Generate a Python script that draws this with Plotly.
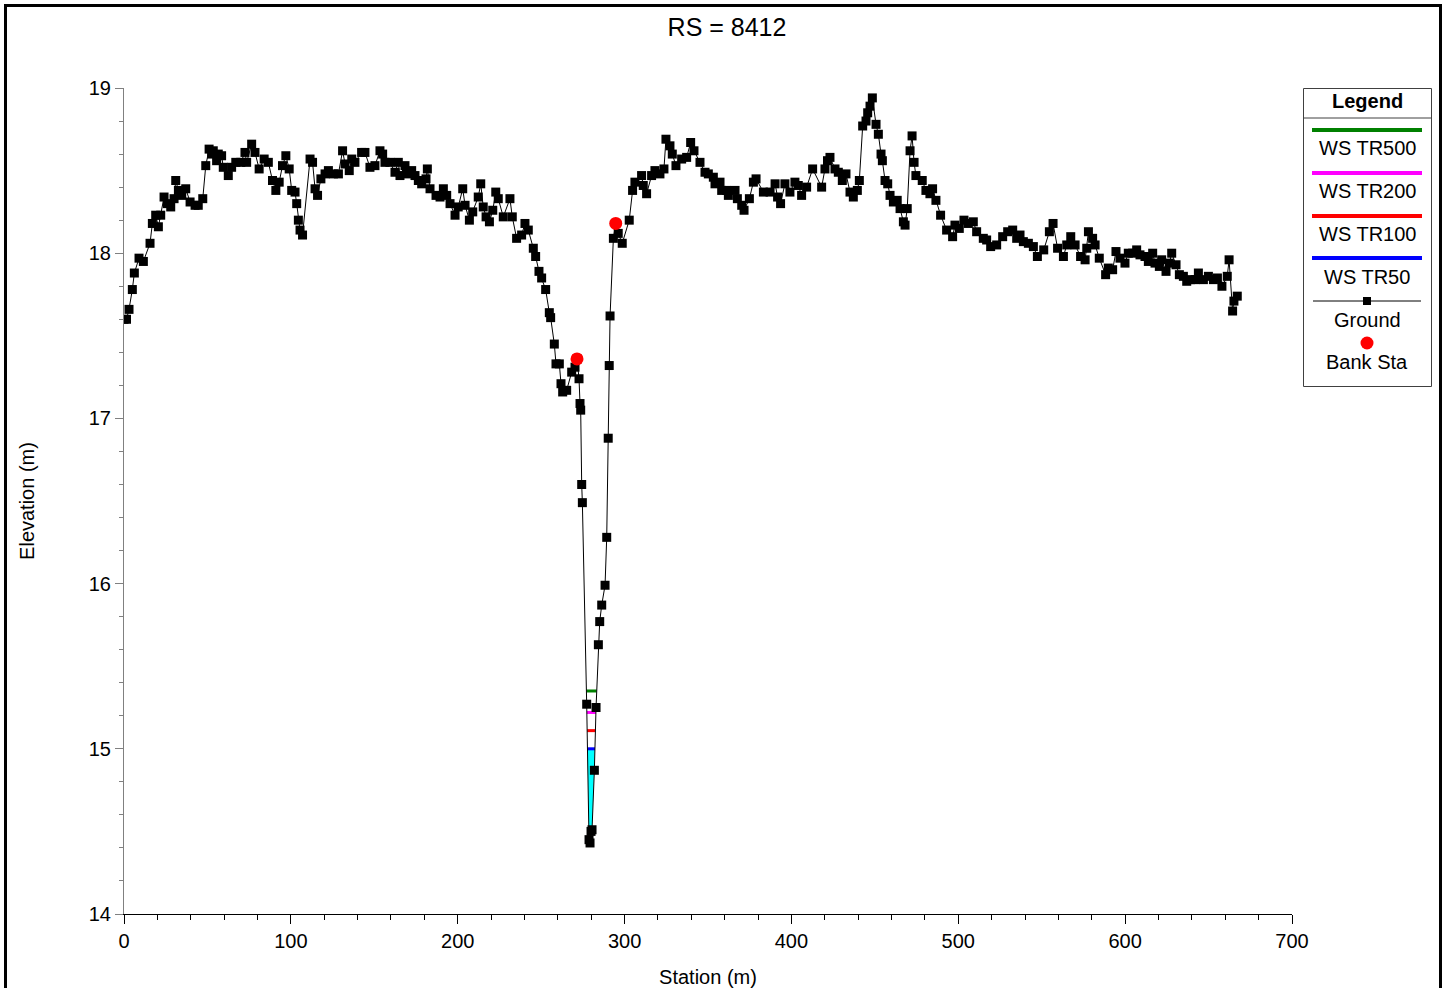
import numpy as np
import plotly.graph_objects as go

# ---------------- data ----------------
station = [
    0, 1.5, 3, 5, 6.2, 9, 11.6, 15.6, 17, 19, 20.6, 22, 24, 26, 28, 30, 31, 32.6, 34.6, 37,
    39.6, 42.6, 44.5, 47.2, 49, 51, 52.5, 53.5, 55.5, 56.5, 58.5, 59.5, 62.5, 64.5, 67, 70,
    72.5, 73.5, 76.5, 78.5, 81, 84, 86.5, 89, 91, 93, 95, 97, 99, 100.5, 102.5, 103.5, 104.5,
    105.5, 107, 111.5, 113, 114.5, 116, 118, 120.5, 122.5, 125.5, 128.5, 131, 132.5, 135,
    136.5, 138.4, 142.4, 144.4, 147.4, 150.4, 153.4, 155, 156.4, 159.4, 162.4, 164.4, 165.4,
    168.4, 169.4, 172.4, 174.4, 176.4, 178.4, 181, 181.8, 183.4, 187, 189.4, 191.4, 193.4,
    195.4, 198.4, 200.3, 203, 204.4, 207, 209, 212.3, 213.8, 215.3, 217, 219, 221, 222.8,
    224.3, 227.3, 231.3, 232.7, 235.3, 238.3, 240.3, 242.3, 245.3, 246.7, 248.7, 250.3,
    252.7, 254.9, 255.7, 257.9, 258.9, 260.9, 261.9, 262.9, 265.3, 268.3, 270.3, 271.5,
    272.7, 273.3, 273.7, 274.3, 274.7, 277.3, 278.7, 279.3, 279.9, 280.5, 281.9, 282.9,
    284.3, 285.1, 286.3, 288.3, 289.3, 290.2, 290.8, 291.3, 293.3, 294.7, 296.2, 298.6,
    302.8, 304.8, 306.2, 310.2, 311.2, 313.2, 316.2, 318.2, 321.2, 323.6, 324.8, 327.2,
    328.6, 330.8, 334.2, 337.2, 339.6, 341.6, 345.2, 348.2, 350.2, 353.2, 354.2, 357.2,
    358.2, 361.2, 362.2, 366.2, 367.6, 370.2, 371.6, 374.8, 377.2, 378.8, 383.2, 387.2,
    390.2, 391.7, 393.5, 396.1, 399.1, 402.1, 404.1, 406.1, 409.1, 412.7, 418.1, 420.1,
    421.6, 423.1, 426.1, 428.1, 430.5, 432.7, 435.1, 437.1, 439.5, 440.7, 442.7, 444.7,
    445.7, 447.1, 448.5, 450.7, 452.1, 453.7, 454.5, 456.1, 457.7, 459.1, 461.1, 463.4,
    465.1, 467.1, 468.1, 469.4, 471.1, 472.3, 473.5, 474.6, 478.4, 480.6, 483, 484.6,
    486.6, 489.4, 493, 496.6, 498, 500.6, 503.4, 506, 509, 511, 515, 517, 519.4, 523,
    526.6, 529.6, 532.6, 535, 537, 539, 542, 545, 547.4, 551.2, 554.6, 556.8, 559.5, 563,
    565, 567.4, 570, 573.3, 576, 577, 578, 580.5, 582, 584.5, 588.3, 589.9, 592.5, 594.5,
    596.9, 599.9, 601.9, 604.5, 606.9, 608.9, 611.9, 613.9, 616.5, 617.9, 620.5, 621.9,
    624.5, 626.5, 627.9, 630.5, 632.5, 634.9, 636.9, 639.3, 641.9, 643.9, 646.9, 649.9,
    652.9, 655.3, 658, 661.2, 662.3, 664.4, 665.2, 667.2,
]
elevation = [
    17.60, 17.60, 17.66, 17.78, 17.88, 17.97, 17.95, 18.06, 18.18, 18.23, 18.16, 18.23, 18.34,
    18.30, 18.28, 18.33, 18.44, 18.38, 18.35, 18.39, 18.31, 18.29, 18.29, 18.33, 18.53, 18.63,
    18.60, 18.62, 18.56, 18.60, 18.59, 18.52, 18.47, 18.52, 18.55, 18.55, 18.61, 18.55, 18.66,
    18.61, 18.51, 18.57, 18.55, 18.44, 18.38, 18.43, 18.53, 18.59, 18.51, 18.38, 18.37, 18.30,
    18.20, 18.14, 18.11, 18.57, 18.55, 18.39, 18.35, 18.45, 18.48, 18.50, 18.48, 18.48, 18.62,
    18.54, 18.50, 18.57, 18.55, 18.61, 18.61, 18.52, 18.53, 18.62, 18.60, 18.55, 18.55, 18.49,
    18.55, 18.47, 18.53, 18.48, 18.50, 18.47, 18.44, 18.42, 18.45, 18.51, 18.39, 18.35, 18.34,
    18.39, 18.35, 18.30, 18.23, 18.28, 18.39, 18.29, 18.20, 18.25, 18.34, 18.42, 18.28, 18.22,
    18.19, 18.26, 18.37, 18.33, 18.22, 18.33, 18.22, 18.09, 18.11, 18.18, 18.14, 18.03, 17.98,
    17.89, 17.85, 17.78, 17.64, 17.61, 17.45, 17.33, 17.33, 17.21, 17.16, 17.17, 17.28, 17.31,
    17.36, 17.24, 17.09, 17.05, 16.60, 16.49, 15.27, 14.45, 14.43, 14.50, 14.51, 14.87, 15.25,
    15.63, 15.77, 15.87, 15.99, 16.28, 16.88, 17.32, 17.62, 18.09, 18.18, 18.12, 18.06, 18.20,
    18.38, 18.43, 18.47, 18.41, 18.36, 18.47, 18.50, 18.48, 18.51, 18.69, 18.65, 18.60, 18.53,
    18.57, 18.58, 18.67, 18.62, 18.55, 18.49, 18.48, 18.46, 18.42, 18.43, 18.38, 18.38, 18.35,
    18.38, 18.33, 18.29, 18.26, 18.33, 18.43, 18.45, 18.37, 18.37, 18.42, 18.34, 18.30, 18.42,
    18.37, 18.43, 18.41, 18.35, 18.40, 18.51, 18.40, 18.51, 18.56, 18.58, 18.51, 18.49, 18.44,
    18.48, 18.37, 18.34, 18.38, 18.44, 18.77, 18.80, 18.85, 18.89, 18.94, 18.78, 18.72, 18.60,
    18.56, 18.44, 18.42, 18.35, 18.31, 18.32, 18.27, 18.19, 18.17, 18.27, 18.62, 18.71, 18.55,
    18.47, 18.44, 18.38, 18.36, 18.39, 18.32, 18.23, 18.14, 18.10, 18.17, 18.15, 18.20, 18.18,
    18.19, 18.13, 18.09, 18.08, 18.04, 18.05, 18.10, 18.13, 18.14, 18.09, 18.11, 18.07, 18.06,
    18.04, 17.98, 18.02, 18.13, 18.18, 18.03, 17.98, 18.05, 18.10, 18.05, 17.98, 17.96, 18.03,
    18.13, 18.09, 18.05, 17.97, 17.87, 17.91, 17.90, 18.01, 17.97, 17.94, 18.00, 18.00, 18.02,
    17.99, 17.98, 17.95, 18.00, 17.94, 17.92, 17.96, 17.89, 17.94, 18.00, 17.93, 17.87, 17.86,
    17.83, 17.84, 17.84, 17.88, 17.84, 17.86, 17.84, 17.85, 17.80, 17.86, 17.96, 17.65, 17.71,
    17.74,
]
bank_stations = [271.5, 294.7]
ws_names = ["WS TR500", "WS TR200", "WS TR100", "WS TR50"]
ws_elev = [15.35, 15.22, 15.11, 15.00]
ws_colors = ["#008000", "#FF00FF", "#FF0000", "#0000FF"]
x_ticks = [0, 100, 200, 300, 400, 500, 600, 700]
y_ticks = [14, 15, 16, 17, 18, 19]

FONT = "Liberation Sans, Arial, sans-serif"

st = np.array(station, dtype=float)
el = np.array(elevation, dtype=float)
imin = int(np.argmin(el))


def crossing(ws):
    i = imin
    while el[i - 1] < ws:
        i -= 1
    xl = st[i - 1] + (ws - el[i - 1]) * (st[i] - st[i - 1]) / (el[i] - el[i - 1])
    j = imin
    while el[j + 1] < ws:
        j += 1
    xr = st[j] + (ws - el[j]) * (st[j + 1] - st[j]) / (el[j + 1] - el[j])
    return xl, xr, i, j


fig = go.Figure()

# water fill for lowest profile
ws_low = ws_elev[-1]
xl, xr, i, j = crossing(ws_low)
fx = [xl] + list(st[i:j + 1]) + [xr, xl]
fy = [ws_low] + list(el[i:j + 1]) + [ws_low, ws_low]
fig.add_trace(go.Scatter(x=fx, y=fy, fill="toself", fillcolor="#00FFFF", mode="lines",
                         line=dict(width=0, color="#00FFFF"), showlegend=False, hoverinfo="skip"))

for name, ws, col in zip(ws_names, ws_elev, ws_colors):
    a, b, _, _ = crossing(ws)
    fig.add_trace(go.Scatter(x=[a, b], y=[ws, ws], mode="lines", name=name,
                             line=dict(color=col, width=3), showlegend=False))

fig.add_trace(go.Scatter(x=station, y=elevation, mode="lines+markers", name="Ground",
                         line=dict(color="black", width=1),
                         marker=dict(symbol="square", size=9, color="black"), showlegend=False))

bank_el = list(np.interp(bank_stations, st, el))
fig.add_trace(go.Scatter(x=bank_stations, y=bank_el, mode="markers", name="Bank Sta",
                         marker=dict(symbol="circle", size=13, color="#FF0000"), showlegend=False))

# ---------------- layout helpers (screen pixel -> paper) ----------------
W, H = 1447, 988
L, R, T, B = 124, 1292, 88, 914
def X(px):
    return (px - L) / (R - L)
def Y(py):
    return (B - py) / (B - T)

shapes = []
annotations = []
# outer frame
shapes.append(dict(type="rect", xref="paper", yref="paper", x0=X(5.5), x1=X(1440.5),
                   y0=Y(995), y1=Y(5.5), line=dict(color="black", width=3)))
# legend box
shapes.append(dict(type="rect", xref="paper", yref="paper", x0=X(1303.5), x1=X(1431.5),
                   y0=Y(386.5), y1=Y(88.5), line=dict(color="#404040", width=1),
                   fillcolor="white"))
shapes.append(dict(type="line", xref="paper", yref="paper", x0=X(1303.5), x1=X(1431.5),
                   y0=Y(118), y1=Y(118), line=dict(color="#404040", width=1)))
annotations.append(dict(text="<b>Legend</b>", xref="paper", yref="paper", x=X(1367), y=Y(101),
                        showarrow=False, font=dict(size=20, family=FONT, color="black"),
                        xanchor="center", yanchor="middle"))
leg_line_y = [130, 173, 216, 258]
leg_text_y = [148, 191, 234, 277]
for name, col, ly, ty in zip(ws_names, ws_colors, leg_line_y, leg_text_y):
    shapes.append(dict(type="line", xref="paper", yref="paper", x0=X(1312), x1=X(1422),
                       y0=Y(ly), y1=Y(ly), line=dict(color=col, width=4)))
    annotations.append(dict(text=name, xref="paper", yref="paper", x=X(1367), y=Y(ty),
                            showarrow=False, font=dict(size=20, family=FONT, color="black"),
                            xanchor="center", yanchor="middle"))
shapes.append(dict(type="line", xref="paper", yref="paper", x0=X(1313), x1=X(1421),
                   y0=Y(301), y1=Y(301), line=dict(color="black", width=1)))
shapes.append(dict(type="rect", xref="paper", yref="paper", x0=X(1363), x1=X(1371),
                   y0=Y(305), y1=Y(297), line=dict(color="black", width=0), fillcolor="black"))
annotations.append(dict(text="Ground", xref="paper", yref="paper", x=X(1367), y=Y(320),
                        showarrow=False, font=dict(size=20, family=FONT, color="black"),
                        xanchor="center", yanchor="middle"))
shapes.append(dict(type="circle", xref="paper", yref="paper", x0=X(1360.5), x1=X(1373.5),
                   y0=Y(349.5), y1=Y(336.5), line=dict(color="#FF0000", width=0),
                   fillcolor="#FF0000"))
annotations.append(dict(text="Bank Sta", xref="paper", yref="paper", x=X(1367), y=Y(362),
                        showarrow=False, font=dict(size=20, family=FONT, color="black"),
                        xanchor="center", yanchor="middle"))

fig.update_layout(
    width=W, height=H,
    margin=dict(l=L, r=W - R, t=T, b=H - B, autoexpand=False),
    paper_bgcolor="white", plot_bgcolor="white",
    font=dict(family=FONT, size=20, color="black"),
    title=dict(text="RS = 8412", x=727 / W, xref="container", y=1 - 27 / H,
               yref="container", xanchor="center", yanchor="middle",
               font=dict(size=25, family=FONT, color="black")),
    shapes=shapes, annotations=annotations,
    showlegend=False,
    xaxis=dict(range=[0, 700], tickvals=x_ticks, ticktext=[str(v) for v in x_ticks],
               showgrid=False, zeroline=False, showline=True, linecolor="black", linewidth=1,
               ticks="outside", ticklen=9, tickcolor="black", tickwidth=1,
               tickfont=dict(size=20, family=FONT, color="black"),
               minor=dict(dtick=20, ticks="outside", ticklen=5, tickcolor="black", showgrid=False),
               title=dict(text="Station (m)", standoff=22, font=dict(size=20, family=FONT)),
               automargin=False),
    yaxis=dict(range=[14, 19], tickvals=y_ticks, ticktext=[str(v) for v in y_ticks],
               showgrid=False, zeroline=False, showline=True, linecolor="#808080", linewidth=1,
               ticks="outside", ticklen=8, tickcolor="#808080", tickwidth=1,
               tickfont=dict(size=20, family=FONT, color="black"),
               minor=dict(dtick=0.2, ticks="outside", ticklen=4, tickcolor="#808080", showgrid=False),
               title=dict(text="Elevation (m)", standoff=48, font=dict(size=20, family=FONT)),
               automargin=False),
)

# remove the page's default body margin so the figure fills the window exactly
fig.write_html("out.html", config={"displayModeBar": False},
               post_script="document.body.style.margin='0';document.body.style.overflow='hidden';")
